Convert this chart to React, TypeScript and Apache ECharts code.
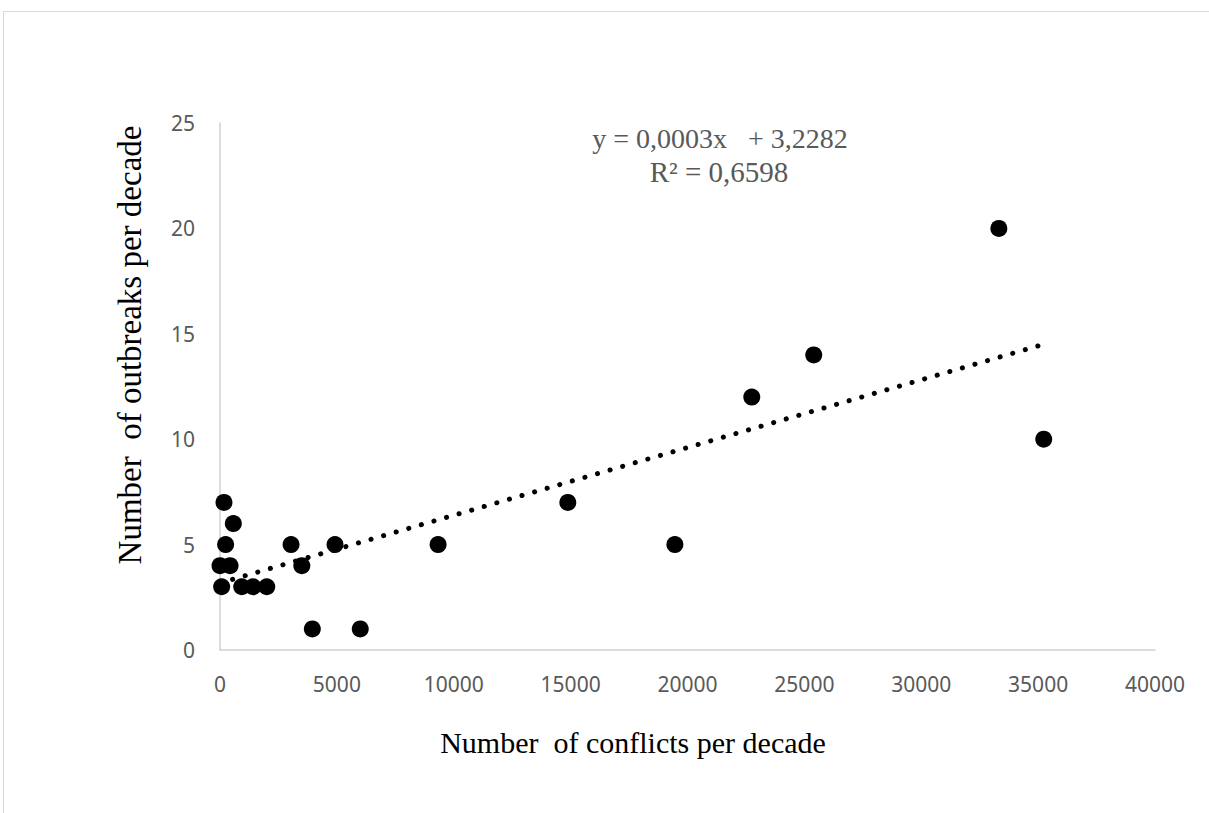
import React, { useEffect, useRef } from "react";
import * as echarts from "echarts";

const conflicts = [170, 570, 240, 0, 430, 70, 930, 1410, 2000, 3040, 3500, 3950, 4920, 6000, 9330, 14880, 19460, 22750, 25400, 33320, 35240];
const outbreaks = [7, 6, 5, 4, 4, 3, 3, 3, 3, 5, 4, 1, 5, 1, 5, 7, 5, 12, 14, 20, 10];
const xTicks = [0, 5000, 10000, 15000, 20000, 25000, 30000, 35000, 40000];
const yTicks = [0, 5, 10, 15, 20, 25];
const equationText = "y = 0,0003x   + 3,2282";
const r2Text = "R² = 0,6598";
const xTitle = "Number  of conflicts per decade";
const yTitle = "Number  of outbreaks per decade";

function linearFit(xs: number[], ys: number[]) {
  const n = xs.length;
  const mx = xs.reduce((a, b) => a + b, 0) / n;
  const my = ys.reduce((a, b) => a + b, 0) / n;
  let sxy = 0;
  let sxx = 0;
  for (let i = 0; i < n; i++) {
    sxy += (xs[i] - mx) * (ys[i] - my);
    sxx += (xs[i] - mx) * (xs[i] - mx);
  }
  const slope = sxy / sxx;
  return { slope, intercept: my - slope * mx };
}

export default function App() {
  const ref = useRef<HTMLDivElement>(null);
  useEffect(() => {
    if (!ref.current) return;
    const chart = echarts.init(ref.current, null, { renderer: "svg" });
    const fit = linearFit(conflicts, outbreaks);
    const xMin = Math.min(...conflicts);
    const xMax = Math.max(...conflicts);
    const trend = [
      [xMin, fit.intercept + fit.slope * xMin],
      [xMax, fit.intercept + fit.slope * xMax],
    ];
    const labelStyle = { color: "#595959", fontFamily: "Noto Sans", fontSize: 21 };
    chart.setOption({
      animation: false,
      backgroundColor: "#ffffff",
      grid: { left: 220, right: 54, top: 123, bottom: 163, containLabel: false },
      xAxis: {
        type: "value",
        min: xTicks[0],
        max: xTicks[xTicks.length - 1],
        interval: xTicks[1] - xTicks[0],
        axisLine: { show: true, lineStyle: { color: "#d0d0d0", width: 1.5 } },
        axisTick: { show: false },
        splitLine: { show: false },
        axisLabel: { ...labelStyle, margin: 23, formatter: (v: number) => String(v) },
      },
      yAxis: {
        type: "value",
        min: yTicks[0],
        max: yTicks[yTicks.length - 1],
        interval: yTicks[1] - yTicks[0],
        axisLine: { show: true, lineStyle: { color: "#d0d0d0", width: 1.5 } },
        axisTick: { show: false },
        splitLine: { show: false },
        axisLabel: { ...labelStyle, margin: 25, formatter: (v: number) => String(v) },
      },
      graphic: [
        {
          type: "rect",
          shape: { x: 3.5, y: 11.5, width: 1400, height: 1000 },
          style: { fill: "none", stroke: "#d9d9d9", lineWidth: 1 },
          silent: true,
        },
        {
          type: "text",
          x: 633,
          y: 742,
          style: {
            text: xTitle,
            fill: "#000000",
            font: "30px 'Liberation Serif'",
            textAlign: "center",
            textVerticalAlign: "middle",
          },
        },
        {
          type: "text",
          x: 130,
          y: 345,
          rotation: Math.PI / 2,
          style: {
            text: yTitle,
            fill: "#000000",
            font: "33px 'Liberation Serif'",
            textAlign: "center",
            textVerticalAlign: "middle",
          },
        },
        {
          type: "text",
          x: 720,
          y: 138,
          style: {
            text: equationText,
            fill: "#595959",
            font: "28px 'Liberation Serif'",
            textAlign: "center",
            textVerticalAlign: "middle",
          },
        },
        {
          type: "text",
          x: 719,
          y: 172,
          style: {
            text: r2Text,
            fill: "#595959",
            font: "29px 'Liberation Serif'",
            textAlign: "center",
            textVerticalAlign: "middle",
          },
        },
      ],
      series: [
        {
          type: "line",
          data: trend,
          showSymbol: false,
          symbol: "none",
          z: 1,
          lineStyle: { color: "#000000", width: 5, type: [0.1, 13], cap: "round" },
        },
        {
          type: "scatter",
          data: conflicts.map((x, i) => [x, outbreaks[i]]),
          symbol: "circle",
          symbolSize: 17,
          z: 2,
          itemStyle: { color: "#000000", opacity: 1 },
        },
      ],
    });
    return () => chart.dispose();
  }, []);
  return (
    <div
      ref={ref}
      style={{ position: "fixed", left: 0, top: 0, width: 1209, height: 813, background: "#fff" }}
    />
  );
}
